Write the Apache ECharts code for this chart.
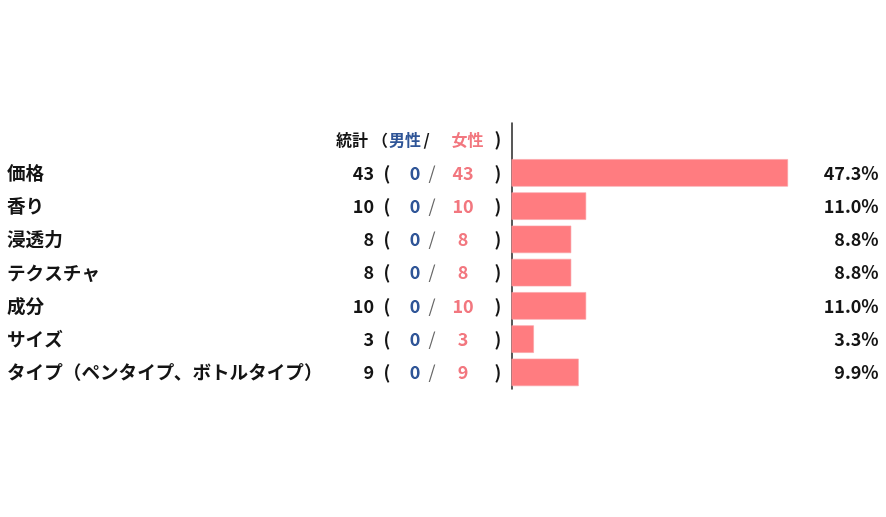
<!DOCTYPE html>
<html>
<head>
<meta charset="utf-8">
<script src="https://cdn.jsdelivr.net/npm/echarts@6/dist/echarts.min.js"></script>
<style>
html,body{margin:0;padding:0;background:#fff;}
#chart{width:886px;height:517px;}
</style>
</head>
<body>
<div id="chart"></div>
<script>
const categories = ['価格', '香り', '浸透力', 'テクスチャ', '成分', 'サイズ', 'タイプ（ペンタイプ、ボトルタイプ）'];
const totalCounts = [43, 10, 8, 8, 10, 3, 9];
const maleCounts = [0, 0, 0, 0, 0, 0, 0];
const femaleCounts = [43, 10, 8, 8, 10, 3, 9];
const percentLabels = ['47.3%', '11.0%', '8.8%', '8.8%', '11.0%', '3.3%', '9.9%'];
const headerTotal = '統計';
const headerMale = '男性';
const headerFemale = '女性';

const HEADER_KEY = '__header__';
const rows = [HEADER_KEY].concat(categories);
const barData = ['-'].concat(totalCounts);

const FONT = '"Noto Sans CJK JP", "Noto Sans", sans-serif';
const TXT = '#141414';
const BLUE = '#2F5597';
const PINK = '#F2777F';
const BAR = '#FF7C80';

const GRID_LEFT = 511.5;

const chart = echarts.init(document.getElementById('chart'), null, { renderer: 'canvas' });

function baseAxis(extra) {
  return Object.assign({
    type: 'category', data: rows, inverse: true, position: 'left',
    axisLine: { show: false }, axisTick: { show: false }, splitLine: { show: false }
  }, extra);
}

function colAxis(anchorX, align, formatter, rich) {
  return baseAxis({
    axisLabel: {
      margin: GRID_LEFT - anchorX, align: align, formatter: formatter, rich: rich,
      fontSize: 18, fontWeight: 'bold', color: TXT, fontFamily: FONT
    }
  });
}

const hStyle = { fontSize: 16, fontWeight: 'bold', fontFamily: FONT };

const option = {
  backgroundColor: '#ffffff',
  animation: false,
  grid: { left: GRID_LEFT, right: 98.3, top: 123, height: 266 },
  xAxis: { type: 'value', min: 0, max: 37, show: false },
  yAxis: [
    baseAxis({
      offset: 2,
      axisLine: { show: true, lineStyle: { color: '#222', width: 1.5 } },
      axisLabel: { show: false }
    }),
    baseAxis({
      position: 'right',
      axisLabel: {
        margin: 91, align: 'right',
        formatter: (v, i) => i === 0 ? '' : percentLabels[i - 1],
        fontSize: 18, fontWeight: 'bold', color: TXT, fontFamily: FONT
      }
    }),
    colAxis(7, 'left', (v, i) => i === 0 ? '' : '{n|' + categories[i - 1] + '}',
      { n: { fontSize: 18.6, fontWeight: 'bold', color: TXT, fontFamily: FONT } }),
    colAxis(374, 'right', (v, i) => i === 0 ? '{h|' + headerTotal + '}' : String(totalCounts[i - 1]),
      { h: Object.assign({ color: TXT, padding: [0, 6, 0, 0] }, hStyle) }),
    colAxis(387, 'center', (v, i) => i === 0 ? '{h|（}' : '(',
      { h: Object.assign({ color: TXT, padding: [0, 14, 0, 0] }, hStyle) }),
    colAxis(415, 'center', (v, i) => i === 0 ? '{h|' + headerMale + '}' : '{m|' + maleCounts[i - 1] + '}',
      { h: Object.assign({ color: BLUE, padding: [0, 20, 0, 0] }, hStyle),
        m: { color: BLUE, fontSize: 18, fontWeight: 'bold', fontFamily: FONT } }),
    colAxis(432, 'center', (v, i) => i === 0 ? '{h|/}' : '{s|/}',
      { h: Object.assign({ color: TXT, padding: [0, 11, 0, 0] }, hStyle),
        s: { color: '#666', fontSize: 18, fontWeight: 'normal', fontFamily: FONT } }),
    colAxis(463, 'center', (v, i) => i === 0 ? '{h|' + headerFemale + '}' : '{f|' + femaleCounts[i - 1] + '}',
      { h: Object.assign({ color: PINK, padding: [0, 0, 0, 9] }, hStyle),
        f: { color: PINK, fontSize: 18, fontWeight: 'bold', fontFamily: FONT } }),
    colAxis(498, 'center', () => ')', {})
  ],
  series: [
    {
      type: 'bar', data: barData, barWidth: 27.5, clip: true,
      itemStyle: { color: BAR, borderColor: '#F9A0A4', borderWidth: 0.6 },
      silent: true
    }
  ]
};
chart.setOption(option);
</script>
</body>
</html>
